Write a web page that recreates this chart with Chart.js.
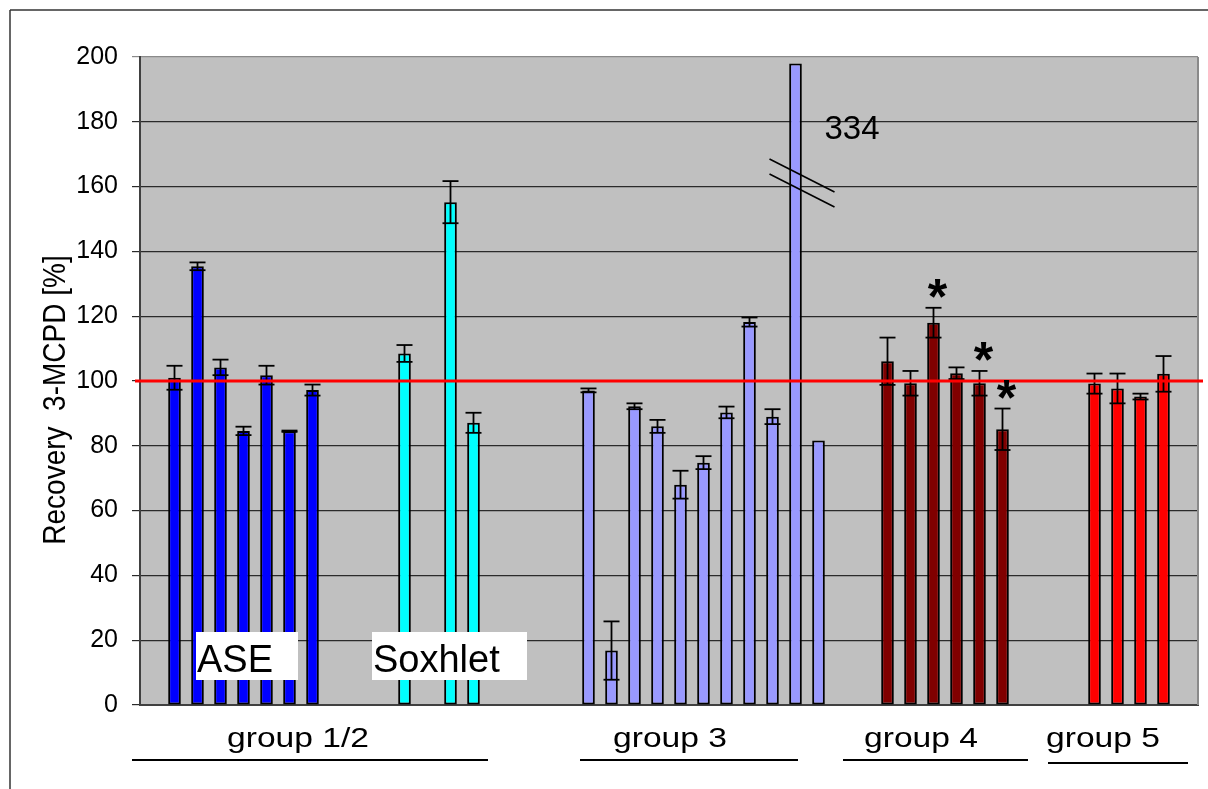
<!DOCTYPE html>
<html>
<head>
<meta charset="utf-8">
<script src="https://cdn.jsdelivr.net/npm/chart.js@4.4.1/dist/chart.umd.min.js"></script>
<style>
  body { margin: 0; background: #fff; }
  canvas { display: block; }
</style>
</head>
<body>
<canvas id="RecoveryChart" width="1208" height="789"></canvas>
<script>
// Recovery 3-MCPD [%] je Methode / Gruppe
var aseValues = [101, 135.4, 104.2, 84.6, 101.8, 84.5, 97.2];
var aseErrors = [3.7, 1.2, 2.4, 1.3, 2.9, 0.2, 1.7];
var soxValues = [108.5, 155.2, 87.1];
var soxErrors = [2.6, 6.5, 3.1];
var group3Values = [97.1, 16.8, 92.2, 86.0, 68.0, 74.8, 90.3, 118.2, 89.0, 334, 81.6];
var group3Errors = [0.6, 9.0, 0.9, 2.0, 4.3, 2.0, 1.8, 1.4, 2.3, null, null];
var group4Values = [106.1, 99.3, 118.0, 102.4, 99.3, 85.1];
var group4Errors = [7.3, 3.8, 4.6, 1.8, 3.8, 6.4];
var group4Stars = [false, false, true, false, true, true];
var group5Values = [99.2, 97.7, 95.2, 102.2];
var group5Errors = [3.1, 4.6, 0.9, 5.5];
var yTicks = {min: 0, max: 200, step: 20};
var referenceLine = 100;
var brokenAxisCap = 198; // 334 wird abgeschnitten gezeichnet

var FONT = "'Liberation Sans', Arial, Helvetica, sans-serif";

// Kategorien mit Lücken aufbauen
var labels = [], values = [], errors = [], colors = [], stars = [];
function addGap(n) {
  for (var i = 0; i < n; i++) {
    labels.push(''); values.push(null); errors.push(null); colors.push('rgba(0,0,0,0)'); stars.push(false);
  }
}
function addBars(name, vals, errs, color, st) {
  for (var i = 0; i < vals.length; i++) {
    labels.push(name + ' ' + (i + 1));
    values.push(vals[i]);
    errors.push(errs[i]);
    colors.push(color);
    stars.push(st ? st[i] : false);
  }
}
addGap(1);
addBars('ASE', aseValues, aseErrors, '#0000FF');
addGap(3);
addBars('Soxhlet', soxValues.slice(0, 1), soxErrors.slice(0, 1), '#00FFFF');
addGap(1);
addBars('Soxhlet', soxValues.slice(1), soxErrors.slice(1), '#00FFFF');
addGap(4);
addBars('group 3', group3Values, group3Errors, '#9999FF');
addGap(2);
addBars('group 4', group4Values, group4Errors, '#800000', group4Stars);
addGap(3);
addBars('group 5', group5Values, group5Errors, '#FF0000');
addGap(1);

var drawn = values.map(function (v) { return v === null ? null : Math.min(v, brokenAxisCap); });

function line(c, x1, y1, x2, y2, color, w) {
  c.beginPath();
  c.strokeStyle = color;
  c.lineWidth = w;
  c.moveTo(x1, y1);
  c.lineTo(x2, y2);
  c.stroke();
}

var decorations = {
  id: 'decorations',
  beforeDraw: function (chart) {
    var c = chart.ctx, a = chart.chartArea;
    c.save();
    c.fillStyle = '#fff';
    c.fillRect(0, 0, chart.width, chart.height);
    c.fillStyle = '#C0C0C0';
    c.fillRect(a.left, a.top, a.right - a.left, a.bottom - a.top);
    c.restore();
  },
  afterDatasetsDraw: function (chart) {
    var c = chart.ctx, a = chart.chartArea;
    var ys = chart.scales.y;
    var meta = chart.getDatasetMeta(0);
    c.save();
    // Fehlerbalken
    for (var i = 0; i < values.length; i++) {
      if (errors[i] === null || values[i] === null) continue;
      var x = meta.data[i].x;
      var yTop = ys.getPixelForValue(values[i] + errors[i]);
      var yBot = ys.getPixelForValue(values[i] - errors[i]);
      line(c, x, yTop, x, yBot, '#000', 1.8);
      line(c, x - 8, yTop, x + 8, yTop, '#000', 1.8);
      line(c, x - 8, yBot, x + 8, yBot, '#000', 1.8);
    }
    // rechter Rand
    line(c, a.right, a.top, a.right, a.bottom, '#8a8a8a', 2);
    // 100 % Linie
    var y100 = ys.getPixelForValue(referenceLine);
    line(c, a.left - 5, y100, chart.width - 5, y100, '#FF0000', 3);

    // Sterne
    c.fillStyle = '#000';
    c.font = 'bold 50px ' + FONT;
    c.textAlign = 'center';
    c.textBaseline = 'alphabetic';
    for (var k = 0; k < values.length; k++) {
      if (!stars[k]) continue;
      var top = ys.getPixelForValue(values[k] + (errors[k] || 0));
      c.fillText('*', meta.data[k].x + 4, top + 6);
    }

    // Achsenbruch beim 334-Balken
    var bi = values.indexOf(334);
    var bx = meta.data[bi].x;
    line(c, bx - 26, 159, bx + 39, 192, '#000', 1.6);
    line(c, bx - 26, 174, bx + 39, 207, '#000', 1.6);
    c.font = '33px ' + FONT;
    c.textAlign = 'left';
    c.fillText('334', bx + 29, 139);

    // ASE / Soxhlet
    c.fillStyle = '#fff';
    c.fillRect(196, 632, 102, 48);
    c.fillRect(372, 632, 155, 48);
    c.fillStyle = '#000';
    c.font = '38px ' + FONT;
    c.fillText('ASE', 197, 672);
    c.fillText('Soxhlet', 373, 672);

    // Gruppen unten
    var groups = [
      {t: 'group 1/2', x: 298, x1: 132, x2: 488, ly: 760},
      {t: 'group 3', x: 670, x1: 580, x2: 798, ly: 760},
      {t: 'group 4', x: 921, x1: 843, x2: 1028, ly: 760},
      {t: 'group 5', x: 1103, x1: 1048, x2: 1188, ly: 763}
    ];
    c.font = '28px ' + FONT;
    c.textAlign = 'center';
    groups.forEach(function (g) {
      c.save();
      c.translate(g.x, 747);
      c.scale(1.2, 1);
      c.fillText(g.t, 0, 0);
      c.restore();
      line(c, g.x1, g.ly, g.x2, g.ly, '#000', 1.8);
    });

    // y-Achsentitel
    c.save();
    c.translate(65, 400);
    c.rotate(-Math.PI / 2);
    c.scale(1, 1.1);
    c.font = '28px ' + FONT;
    c.textAlign = 'center';
    c.fillText('Recovery  3-MCPD [%]', 0, 0);
    c.restore();

    // Rahmen
    line(c, 10, 10, chart.width, 10, '#333', 1.5);
    line(c, 10, 10, 10, chart.height, '#333', 1.5);
    c.restore();
  }
};

var ctx = document.getElementById('RecoveryChart').getContext('2d');
var myChart = new Chart(ctx, {
  type: 'bar',
  data: {
    labels: labels,
    datasets: [
      {
        data: drawn,
        backgroundColor: colors,
        borderColor: '#000',
        borderWidth: 2,
        borderSkipped: false,
        barPercentage: 0.55,
        categoryPercentage: 1
      }
    ]
  },
  options: {
    responsive: false,
    animation: false,
    layout: {padding: {top: 57, right: 10, bottom: 84, left: 0}},
    plugins: {legend: {display: false}, tooltip: {enabled: false}},
    scales: {
      x: {
        grid: {display: false},
        ticks: {display: false},
        border: {display: true, color: '#404040', width: 2},
        afterFit: function (s) { s.height = 0; }
      },
      y: {
        min: yTicks.min,
        max: yTicks.max,
        ticks: {stepSize: yTicks.step, color: '#000', padding: 14, font: {family: FONT, size: 25}},
        grid: {
          color: function (c) { return c.tick && c.tick.value === yTicks.max ? '#8a8a8a' : '#2a2a2a'; },
          lineWidth: 1.2,
          tickLength: 8
        },
        border: {color: '#404040', width: 2},
        afterFit: function (s) { s.width = 140; }
      }
    }
  },
  plugins: [decorations]
});
</script>
</body>
</html>
